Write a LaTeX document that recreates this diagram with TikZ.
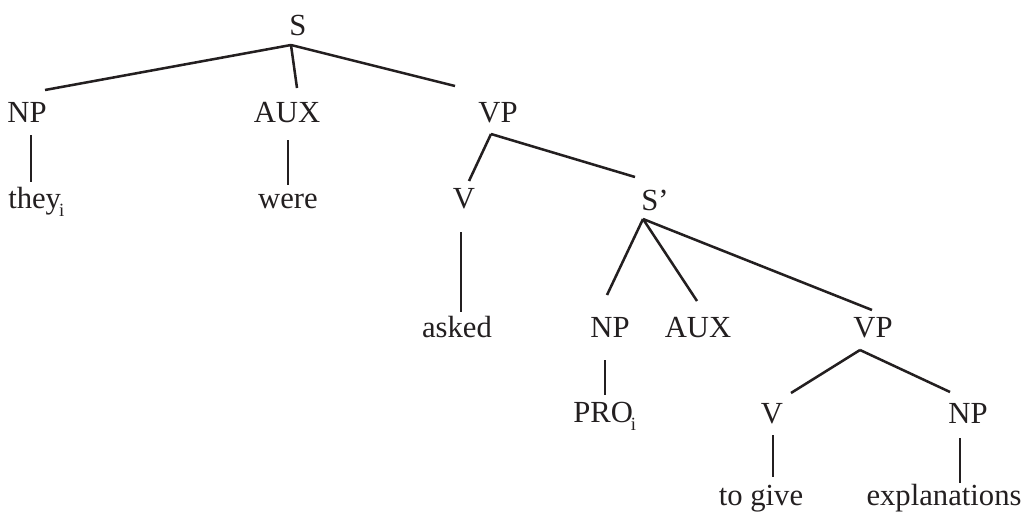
\documentclass[tikz,border=0pt]{standalone}
\usepackage{fontspec}
\setmainfont{Liberation Serif}
\definecolor{ink}{RGB}{35,31,32}
\newcommand\subidx{\kern-1.5pt\raisebox{-6.5pt}{\fontsize{14}{14}\selectfont i}}
\begin{document}
\begin{tikzpicture}[x=0.75pt,y=-0.75pt,
  lbl/.style={anchor=base,inner sep=0pt,font=\fontsize{23}{23}\selectfont,text=ink},
  branch/.style={draw=ink,line width=1.9pt}]
\useasboundingbox (0,0) rectangle (1023,514);

% labels, placed on their baselines
\node[lbl] (S)    at (298,35)  {S};
\node[lbl] (np1)  at (27,122)  {NP};
\node[lbl] (aux1) at (287,122) {AUX};
\node[lbl] (vp1)  at (498,122) {VP};
\node[lbl,anchor=base west] (they) at (8,208) {they\subidx};
\node[lbl] (were) at (288,208) {were};
\node[lbl] (v1)   at (464,208) {V};
\node[lbl] (sbar) at (655,210) {S’};
\node[lbl] (asked) at (457,337) {asked};
\node[lbl] (np2)  at (610,337) {NP};
\node[lbl] (aux2) at (698,337) {AUX};
\node[lbl] (vp2)  at (873,337) {VP};
\node[lbl,anchor=base west] (pro) at (573,422) {PRO\subidx};
\node[lbl] (v2)   at (772,423) {V};
\node[lbl] (np3)  at (968,423) {NP};
\node[lbl] (give) at (761,505) {to give};
\node[lbl] (expl) at (944,505) {explanations};

% branches
\draw[branch] ([shift={(-7,10)}]S.base) -- ([shift={(18,-32)}]np1.base);
\draw[branch] ([shift={(-7,10)}]S.base) -- ([shift={(10,-34)}]aux1.base);
\draw[branch] ([shift={(-7,10)}]S.base) -- ([shift={(-43,-36)}]vp1.base);
\draw[branch] ([shift={(4,13)}]np1.base) -- ([shift={(23,-26)}]they.base west);
\draw[branch] ([shift={(1,18)}]aux1.base) -- ([shift={(0,-23)}]were.base);
\draw[branch] ([shift={(-7,12)}]vp1.base) -- ([shift={(5,-27)}]v1.base);
\draw[branch] ([shift={(-7,12)}]vp1.base) -- ([shift={(-20,-33)}]sbar.base);
\draw[branch] ([shift={(-3,24)}]v1.base) -- ([shift={(4,-25)}]asked.base);
\draw[branch] ([shift={(-12,9)}]sbar.base) -- ([shift={(-3,-42)}]np2.base);
\draw[branch] ([shift={(-12,9)}]sbar.base) -- ([shift={(-1,-36)}]aux2.base);
\draw[branch] ([shift={(-12,9)}]sbar.base) -- ([shift={(-1,-27)}]vp2.base);
\draw[branch] ([shift={(-5,23)}]np2.base) -- ([shift={(32,-27)}]pro.base west);
\draw[branch] ([shift={(-13,13)}]vp2.base) -- ([shift={(19,-30)}]v2.base);
\draw[branch] ([shift={(-13,13)}]vp2.base) -- ([shift={(-18,-31)}]np3.base);
\draw[branch] ([shift={(1,12)}]v2.base) -- ([shift={(12,-28)}]give.base);
\draw[branch] ([shift={(-8,15)}]np3.base) -- ([shift={(16,-22)}]expl.base);
\end{tikzpicture}
\end{document}
